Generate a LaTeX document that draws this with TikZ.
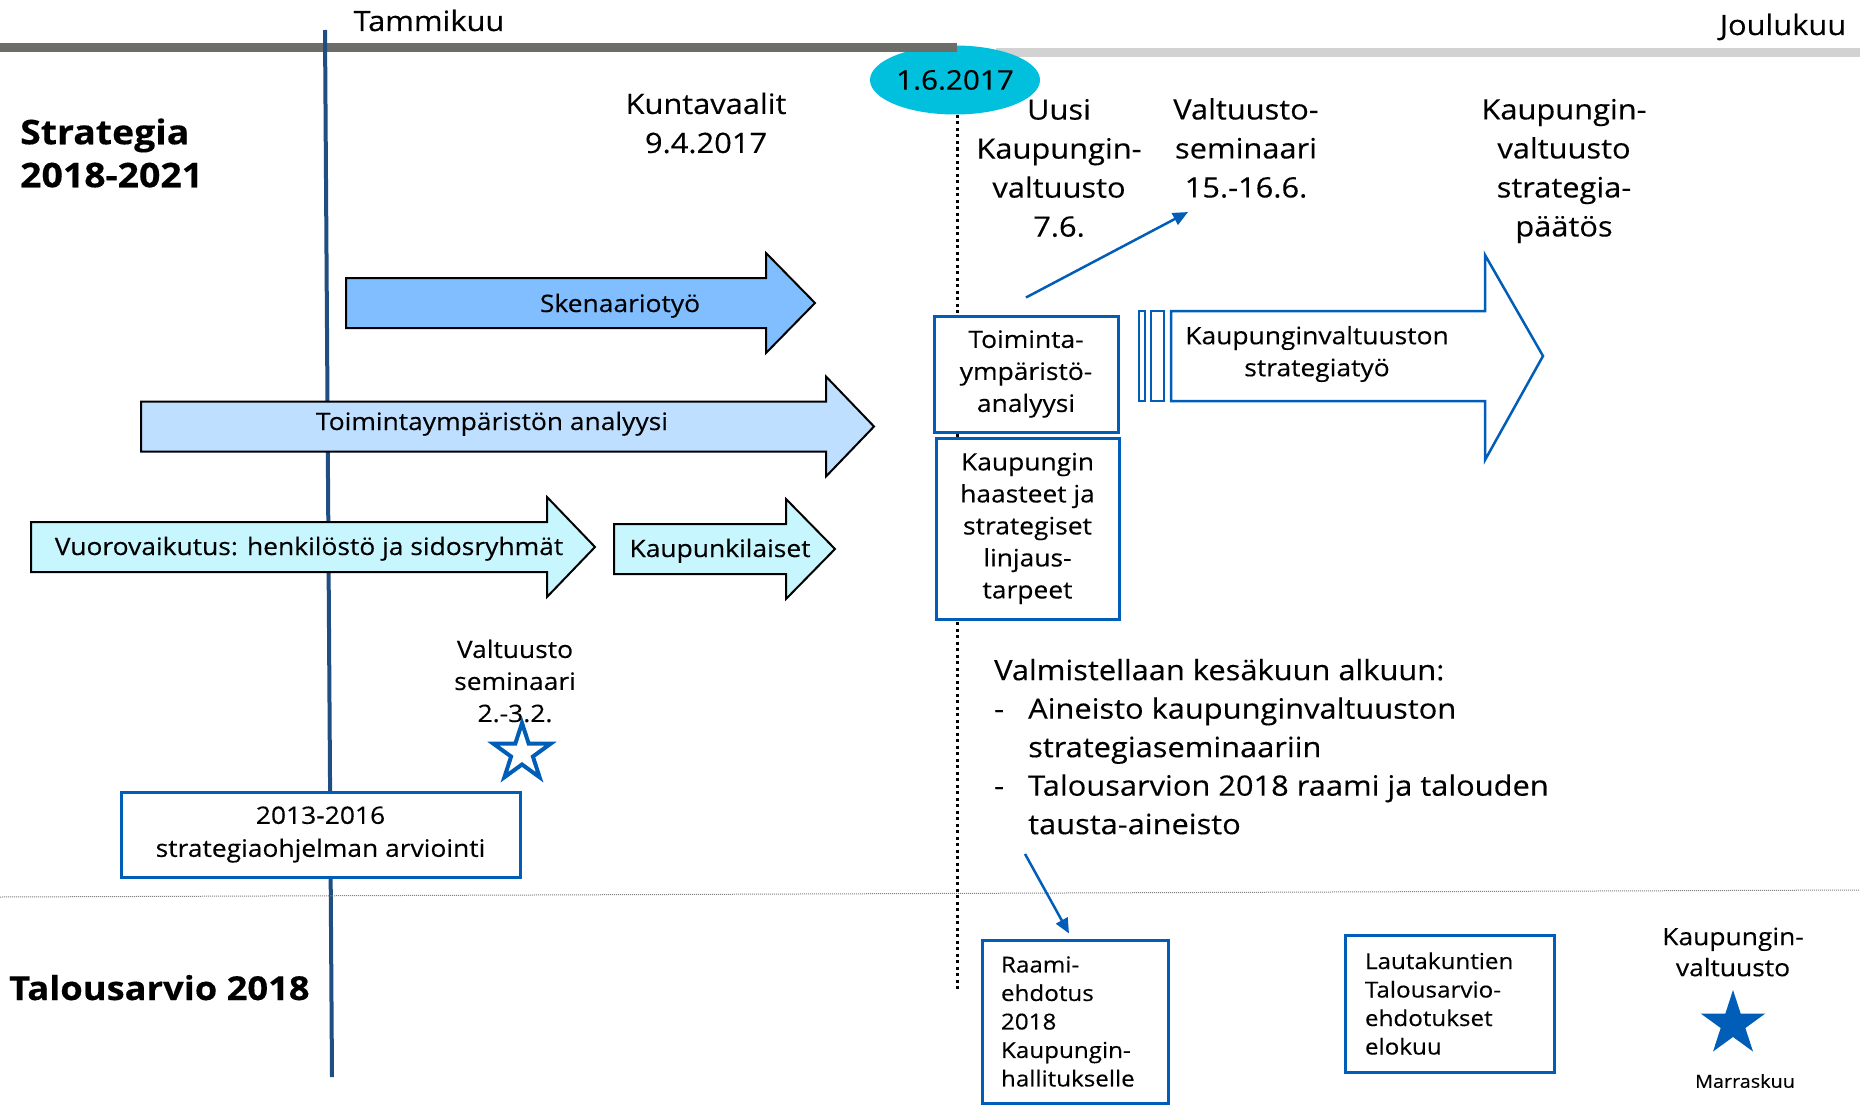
\documentclass[tikz,border=0pt]{standalone}
\usepackage{fontspec}
\setmainfont{Open Sans}[FakeStretch=1.1, FakeBold=0.3]
\usepackage{tikz}
\usetikzlibrary{arrows.meta}
\usetikzlibrary{shapes.geometric}
\usetikzlibrary{calc}

\definecolor{navy}{RGB}{31,78,130}
\definecolor{boxblue}{RGB}{0,94,184}
\definecolor{skenfill}{RGB}{128,190,255}
\definecolor{toimfill}{RGB}{190,223,255}
\definecolor{vuorofill}{RGB}{200,246,255}
\definecolor{datecyan}{RGB}{0,192,222}
\definecolor{bardark}{RGB}{108,108,104}
\definecolor{barlight}{RGB}{210,210,210}

\newcommand{\fs}[2]{\fontsize{#1}{#2}\selectfont}

\tikzstyle{lbl} = [inner sep=0pt, align=center, font=\fs{28}{39}]
\tikzstyle{arrlbl} = [inner sep=0pt, anchor=base, font=\fs{24}{30}]
\tikzstyle{box} = [draw=boxblue, line width=3pt, fill=white,
	align=center, inner sep=0pt, font=\fs{24}{32}]
\tikzstyle{smallbox} = [draw=boxblue, line width=3pt, fill=white,
	align=left, inner ysep=0pt, font=\fs{22}{28.5}]
\tikzstyle{conn} = [-{Triangle[length=15pt,width=13pt]}, line width=2.5pt, draw=boxblue]
\tikzstyle{bigarrow} = [draw=black, line width=2pt]
\tikzstyle{mark5} = [star, star points=5, star point ratio=2.618, inner sep=0pt]

% block arrow: style, left x, head x, tip x, centre y
\newcommand{\blockarrow}[5]{\draw[#1] (#2,#5-25) -- (#3,#5-25) -- (#3,#5-50)
	-- (#4,#5) -- (#3,#5+50) -- (#3,#5+25) -- (#2,#5+25) -- cycle}

\begin{document}
\begin{tikzpicture}[x=1pt, y=-1pt]
	\useasboundingbox (0,0) rectangle (1860,1105);
	
	% time axis
	\draw [barlight, line width=9pt] (996,52.5) -- (1860,52.5);
	\node (kesakuu) [ellipse, fill=datecyan, minimum width=170pt, minimum height=69pt,
		inner sep=0pt, font=\fs{27}{30}] at (955,80) {1.6.2017};
	\draw [bardark, line width=9pt] (0,47.5) -- (957,47.5);
	\node (tammi) [arrlbl, font=\fs{28}{32}] at (429,31) {Tammikuu};
	\node (joulu) [arrlbl, font=\fs{28}{32}] at (1783,35) {Joulukuu};
	
	\draw [navy, line width=4pt] (325,30) -- (332,1077);
	\draw [line width=3pt, dash pattern=on 3pt off 3.5pt] (957,115) -- (957,990);
	\draw [gray, line width=1pt, dash pattern=on 1pt off 1pt] (0,897) -- (1860,890);
	
	\node (strategia) [anchor=west, align=left, inner sep=0pt, font=\fs{34}{43}\bfseries]
		at (20,153) {Strategia\\2018-2021};
	\node (talousarvio) [anchor=base west, inner sep=0pt, font=\fs{33}{40}\bfseries]
		at (9,1000) {Talousarvio 2018};
	
	\node (kuntavaalit) [lbl] at (706,123) {Kuntavaalit\\9.4.2017};
	\node (uusikv) [lbl] at (1059,168) {Uusi\\Kaupungin-\\valtuusto\\7.6.};
	\node (kvseminaari) [lbl] at (1246,148) {Valtuusto-\\seminaari\\15.-16.6.};
	\node (kvpaatos) [lbl] at (1564,171) {Kaupungin-\\valtuusto\\strategia-\\päätös};
	
	\blockarrow{bigarrow, fill=skenfill}{346}{766}{815}{303};
	\blockarrow{bigarrow, fill=toimfill}{141}{826}{874}{426.5};
	\blockarrow{bigarrow, fill=vuorofill}{31}{547}{595}{547};
	\blockarrow{bigarrow, fill=vuorofill}{614}{786}{835}{549};
	\node (skenaario) [arrlbl] at (620,312) {Skenaariotyö};
	\node (toimanal) [arrlbl] at (492,430) {Toimintaympäristön analyysi};
	\node (vuoro) [arrlbl] at (309,555) {Vuorovaikutus: henkilöstö ja sidosryhmät};
	\node (kaupunkilaiset) [arrlbl] at (720,557) {Kaupunkilaiset};
	
	\draw [boxblue, line width=2.5pt, fill=white] (1171,311) -- (1485,311) -- (1485,255)
		-- (1543,356) -- (1485,460) -- (1485,401) -- (1171,401) -- cycle;
	\draw [boxblue, line width=2pt] (1139,311) rectangle (1145,401);
	\draw [boxblue, line width=2pt] (1151,311) rectangle (1164,401);
	\node (kvtyo) [lbl, font=\fs{24}{32}] at (1317,354) {Kaupunginvaltuuston\\strategiatyö};
	
	\node (toimbox) [box, minimum width=184pt, minimum height=116pt]
		at (1026,374) {Toiminta-\\ympäristö-\\analyysi};
	\node (haastebox) [box, minimum width=183pt, minimum height=181pt]
		at (1027.5,528.5) {Kaupungin\\haasteet ja\\strategiset\\linjaus-\\tarpeet};
	\draw [conn] ([yshift=17pt]toimbox.north) -- ([xshift=-58pt,yshift=-14pt]kvseminaari.south);
	
	\node (valm) [anchor=north west, inner sep=0pt, font=\fs{28}{38.5}] at (994,653) {%
		\begin{tabular}{@{}p{22pt}@{\hspace{12pt}}l@{}}
			\multicolumn{2}{@{}l@{}}{Valmistellaan kesäkuun alkuun:}\\
			- & Aineisto kaupunginvaltuuston\\
			  & strategiaseminaariin\\
			- & Talousarvion 2018 raami ja talouden\\
			  & tausta-aineisto
		\end{tabular}};
	
	\node (vseminaari) [lbl, font=\fs{24}{32}] at (515,681) {Valtuusto\\seminaari\\2.-3.2.};
	\node (valstar) [mark5, draw=boxblue, line width=4pt, minimum size=60pt] at (522,753) {};
	\node (arvbox) [box, minimum width=399pt, minimum height=85pt, font=\fs{24}{33}]
		at (320.5,834.5) {2013-2016\\strategiaohjelman arviointi};
	
	\node (raamibox) [smallbox, text width=148pt, inner xsep=19pt, minimum height=163pt]
		at (1075,1021.5) {Raami-\\ehdotus\\2018\\Kaupungin-\\hallitukselle};
	\draw [conn] ([xshift=31pt,yshift=-8pt]valm.south west) -- ([xshift=-6pt,yshift=5pt]raamibox.north);
	\node (lautabox) [smallbox, text width=169pt, inner xsep=20pt, minimum height=137pt]
		at (1449.5,1003.5) {Lautakuntien\\Talousarvio-\\ehdotukset\\elokuu};
	
	\node (kvalt) [lbl, font=\fs{24}{31}] at (1733,952) {Kaupungin-\\valtuusto};
	\node (marrasstar) [mark5, fill=boxblue, minimum size=68pt] at (1733,1024) {};
	\node (marras) [inner sep=0pt, font=\fs{18}{24}] at (1745,1081) {Marraskuu};
\end{tikzpicture}
\end{document}
